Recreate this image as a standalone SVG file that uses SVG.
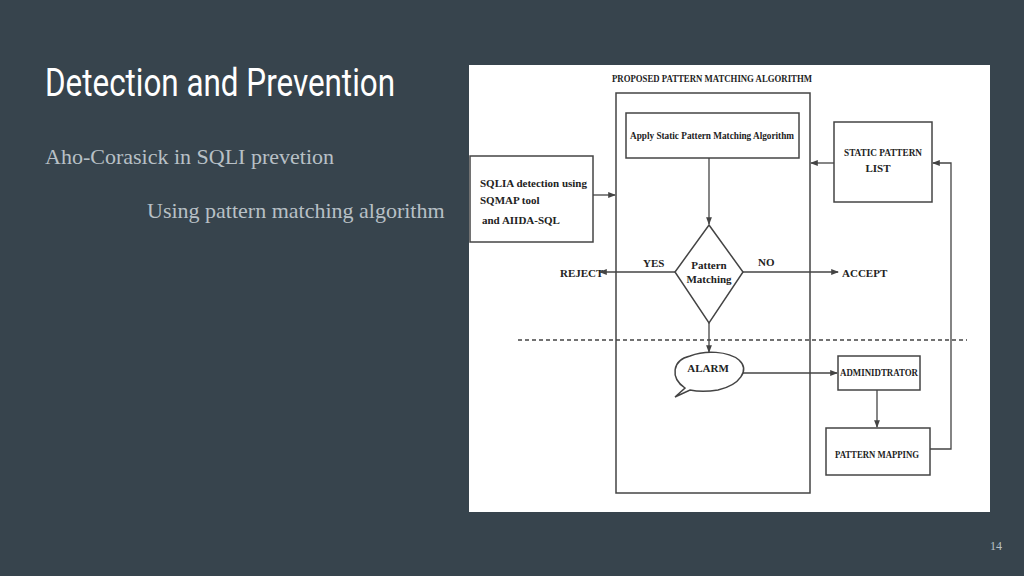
<svg xmlns="http://www.w3.org/2000/svg" width="1024" height="576" viewBox="0 0 1024 576">
<style>
.b{fill:#fff;stroke:#444;stroke-width:1.5}
.l{stroke:#444;stroke-width:1.3;fill:none}
.t{font-family:"Liberation Serif",serif;font-weight:bold;fill:#222;font-size:11px}
</style>
<defs><marker id="a" viewBox="0 0 8 8" refX="7" refY="4" markerWidth="6" markerHeight="6" orient="auto"><path d="M0,1 L8,4 L0,7z" fill="#444"/></marker></defs>
<rect width="1024" height="576" fill="#37444d"/>
<text x="45" y="96" font-family="Roboto,sans-serif" font-size="38" fill="#fff" textLength="350" lengthAdjust="spacingAndGlyphs">Detection and Prevention</text>
<text x="45" y="164" font-family="'Liberation Serif',serif" font-size="22" fill="#b8c0c6">Aho-Corasick in SQLI prevetion</text>
<text x="147" y="218" font-family="'Liberation Serif',serif" font-size="22" fill="#b8c0c6">Using pattern matching algorithm</text>
<text x="1002" y="550" font-family="'Liberation Serif',serif" font-size="12" fill="#b8c0c6" text-anchor="end">14</text>
<rect x="469" y="65" width="521" height="447" fill="#fff"/>
<text class="t" x="712" y="82" text-anchor="middle" font-size="10.5" textLength="200" lengthAdjust="spacingAndGlyphs">PROPOSED PATTERN MATCHING ALGORITHM</text>
<g id="main"><rect class="b" x="616" y="93" width="194" height="400"/></g>
<g id="apply"><rect class="b" x="626" y="113" width="173" height="45"/><text class="t" x="712" y="139" text-anchor="middle" font-size="10.5" textLength="164" lengthAdjust="spacingAndGlyphs">Apply Static Pattern Matching Algorithm</text></g>
<g id="static"><rect class="b" x="834" y="122" width="98" height="80"/><text class="t" x="883" y="156" text-anchor="middle" textLength="78" lengthAdjust="spacingAndGlyphs">STATIC PATTERN</text><text class="t" x="878" y="172" text-anchor="middle">LIST</text></g>
<g id="sqlia"><rect class="b" x="470" y="156" width="123" height="86"/><text class="t" x="480" y="187" font-size="12">SQLIA detection using</text><text class="t" x="480" y="204" font-size="12">SQMAP tool</text><text class="t" x="482" y="224" font-size="12">and AIIDA-SQL</text></g>
<g id="diamond"><path class="b" d="M709,225 L743,272 L709,323 L675,272z"/><text class="t" x="709" y="269" text-anchor="middle" font-size="10">Pattern</text><text class="t" x="709" y="283" text-anchor="middle" font-size="10">Matching</text></g>
<g id="reject"><text class="t" x="560" y="277" font-size="10.5">REJECT</text></g>
<g id="accept"><text class="t" x="842" y="277" font-size="10.5">ACCEPT</text></g>
<g id="alarm"><path class="b" d="M685,388 C670,378 672,360 690,356 C705,350 728,351 739,360 C750,370 740,385 718,390 C705,392 695,391 690,390 L675,397 Z"/><text class="t" x="708" y="372" text-anchor="middle" font-size="10">ALARM</text></g>
<g id="admin"><rect class="b" x="838" y="356" width="82" height="34"/><text class="t" x="879" y="376" text-anchor="middle" font-size="10" textLength="78" lengthAdjust="spacingAndGlyphs">ADMINIDTRATOR</text></g>
<g id="mapping"><rect class="b" x="826" y="428" width="104" height="47"/><text class="t" x="877" y="458" text-anchor="middle" font-size="10" textLength="84" lengthAdjust="spacingAndGlyphs">PATTERN MAPPING</text></g>
<g id="connectors">
<line class="l" x1="593" y1="195" x2="615" y2="195" marker-end="url(#a)"/>
<line class="l" x1="834" y1="163" x2="811" y2="163" marker-end="url(#a)"/>
<line class="l" x1="709" y1="158" x2="709" y2="224" marker-end="url(#a)"/>
<line class="l" x1="675" y1="272" x2="600" y2="272" marker-end="url(#a)"/>
<line class="l" x1="743" y1="272" x2="838" y2="272" marker-end="url(#a)"/>
<line class="l" x1="709" y1="323" x2="709" y2="352" marker-end="url(#a)"/>
<line class="l" x1="743" y1="373" x2="837" y2="373" marker-end="url(#a)"/>
<line class="l" x1="877" y1="390" x2="877" y2="427" marker-end="url(#a)"/>
<polyline class="l" points="930,449 951,449 951,163 933,163" marker-end="url(#a)"/>
<line x1="518" y1="340" x2="967" y2="340" stroke="#444" stroke-width="1.3" stroke-dasharray="4,3"/>
</g>
<text class="t" x="643" y="267" font-size="10">YES</text>
<text class="t" x="758" y="266" font-size="10">NO</text>
</svg>
